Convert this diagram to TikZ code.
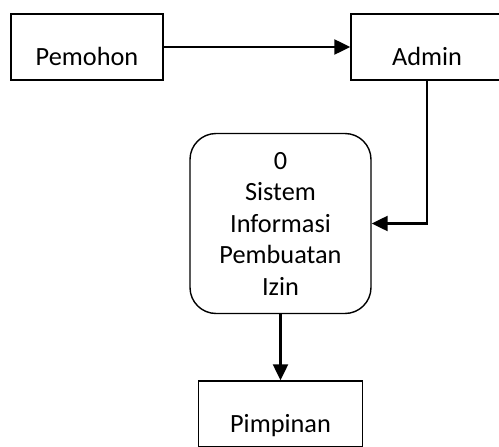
\documentclass[tikz,border=0pt]{standalone}
\usepackage{fontspec}
\setmainfont{Carlito}
\usetikzlibrary{arrows.meta}
\begin{document}
\begin{tikzpicture}[x=1pt,y=-1pt,>={Triangle[length=16pt,width=15pt]},
		font=\fontsize{26.3}{31.5}\selectfont,
		entitas/.style={draw,line width=1.4pt,inner sep=0pt,text height=51pt,text depth=15pt},
		proses/.style={draw,line width=1.4pt,rounded corners=26pt,minimum width=181pt,minimum height=180pt,align=center},
		alir/.style={->,line width=2.3pt}]
	\useasboundingbox (0,0) rectangle (499,447);
	\clip (0,0) rectangle (499,447);
	\node[entitas,minimum width=152pt] (pemohon) at (87,47) {Pemohon};
	\node[entitas,minimum width=152pt] (admin) at (427,47) {Admin};
	\node[proses] (sistem) at (280.5,223.5) {0\\Sistem\\Informasi\\Pembuatan\\Izin};
	\node[entitas,minimum width=164pt] (pimpinan) at (280.5,414) {Pimpinan};
	% aliran data
	\draw[alir] (pemohon.east) -- (admin.west);
	\draw[alir] (admin.south) |- (sistem.east);
	\draw[alir] (sistem.south) -- (pimpinan.north);
\end{tikzpicture}
\end{document}
